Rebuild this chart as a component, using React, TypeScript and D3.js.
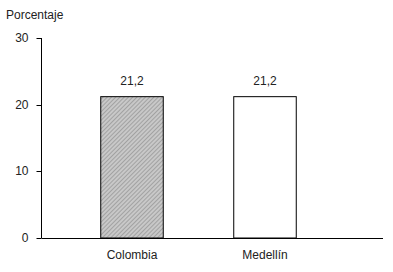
import React from "react";
import * as d3 from "d3";

const categories = ["Colombia", "Medellín"];
const values = [21.2, 21.2];
const valueLabels = ["21,2", "21,2"];
const yTicks = [0, 10, 20, 30];
const yTitle = "Porcentaje";

const W = 393;
const H = 272;

export default function App() {
  const y = d3.scaleLinear().domain([0, 30]).range([238, 38]);
  const x = d3
    .scaleBand<string>()
    .domain(categories)
    .range([65.5, 331.5])
    .paddingInner(0.53)
    .paddingOuter(0.265);

  const axisX = 41.5;
  const font = "'Liberation Sans', Arial, sans-serif";

  return (
    <svg
      width={W}
      height={H}
      style={{ position: "fixed", top: 0, left: 0, background: "#fff" }}
      fontFamily={font}
      fontSize={12}
    >
      <defs>
        <pattern id="hatch" width="3" height="3" patternUnits="userSpaceOnUse" patternTransform="rotate(45)">
          <rect width="3" height="3" fill="#c8c8c8" />
          <line x1="0" y1="0" x2="0" y2="3" stroke="#888" strokeWidth="1.2" />
        </pattern>
      </defs>

      <text x={6} y={19} fill="#222">{yTitle}</text>

      {/* bars */}
      {categories.map((c, i) => (
        <g key={c}>
          <rect
            x={x(c)!}
            y={y(values[i])}
            width={x.bandwidth()}
            height={y(0) - y(values[i])}
            fill={i === 0 ? "url(#hatch)" : "#fff"}
            stroke="#000"
            strokeWidth={1}
          />
          <text
            x={x(c)! + x.bandwidth() / 2}
            y={y(values[i]) - 12}
            textAnchor="middle"
            fill="#222"
          >
            {valueLabels[i]}
          </text>
          <text
            x={x(c)! + x.bandwidth() / 2}
            y={259}
            textAnchor="middle"
            fill="#222"
          >
            {c}
          </text>
        </g>
      ))}

      {/* y axis */}
      <line x1={axisX} x2={axisX} y1={y(30)} y2={y(0)} stroke="#000" />
      {yTicks.map((t) => (
        <g key={t}>
          <line x1={axisX - 5} x2={axisX} y1={Math.round(y(t)) + 0.5} y2={Math.round(y(t)) + 0.5} stroke="#000" />
          <text x={axisX - 13} y={y(t) + 4} textAnchor="end" fill="#222">
            {t}
          </text>
        </g>
      ))}

      {/* x axis */}
      <line x1={axisX} x2={383} y1={y(0) + 0.5} y2={y(0) + 0.5} stroke="#000" />
    </svg>
  );
}
